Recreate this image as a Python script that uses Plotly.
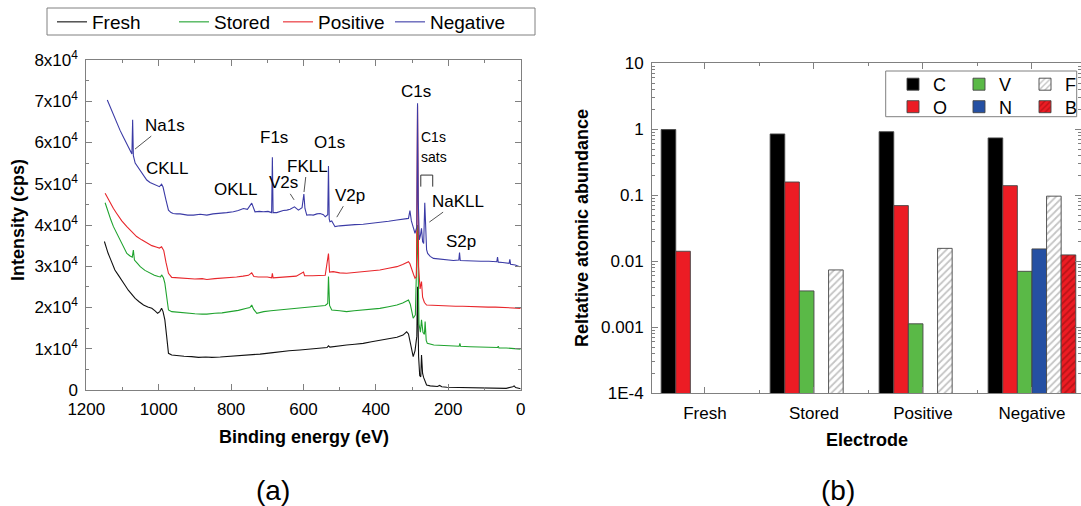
import plotly.graph_objects as go

W, H = 1081, 506
FONT = "Liberation Sans, Arial, sans-serif"
GRID = "#808080"

# ---------------- Panel (a): XPS survey spectra (intensity in 10^4 cps) -------------
fresh_E = [1150,1145,1140,1134,1128,1121,1112,1102,1093,1084,1075,1065,1054,1042,1030,1019,1010,1003,997,992,
           988,983,978,973,964,950,930,909,890,870,853,830,810,798,770,743,720,690,665,640,
           610,573,550,535,531,527,500,481,458,435,412,389,365,342,325,315,310,306,301,297,
           292,287,285,282,279,276,274,271,268,264,260,250,240,230,224,218,204,180,150,120,
           90,60,40,22,18,14,5,0]
fresh_I = [3.60,3.45,3.32,3.19,3.05,2.91,2.79,2.67,2.54,2.42,2.32,2.22,2.14,2.06,2.01,1.98,1.92,1.86,1.90,1.98,
           1.90,1.70,1.30,0.89,0.85,0.83,0.82,0.81,0.79,0.80,0.79,0.80,0.81,0.82,0.83,0.85,0.87,0.90,0.93,0.95,
           0.97,0.99,1.02,1.03,1.07,1.04,1.06,1.09,1.11,1.13,1.17,1.21,1.24,1.28,1.33,1.41,1.36,1.20,0.95,0.81,
           0.95,1.30,2.50,0.80,0.35,0.32,0.85,0.40,0.30,0.20,0.12,0.10,0.09,0.085,0.11,0.08,0.065,0.06,0.055,0.05,
           0.045,0.04,0.04,0.08,0.10,0.06,0.04,0.03]

stored_E = [1148,1143,1139,1132,1125,1116,1107,1098,1088,1079,1073,1070,1067,1060,1051,1038,1024,1012,1001,995,
            992,987,983,978,973,964,945,922,900,880,867,845,825,803,780,757,748,743,738,729,
            710,690,665,640,620,600,573,550,540,533,531,528,522,500,481,460,435,412,389,365,
            342,326,310,305,297,291,285,281,277,274,270,266,264,261,258,240,220,204,180,170,
            168,166,140,110,80,64,62,60,40,20,0]
stored_I = [4.54,4.40,4.28,4.12,3.96,3.80,3.64,3.48,3.31,3.25,3.22,3.39,3.15,3.08,2.99,2.90,2.83,2.78,2.75,2.74,
            2.79,2.72,2.59,2.25,1.94,1.90,1.88,1.86,1.85,1.84,1.84,1.86,1.87,1.90,1.93,1.98,2.00,2.06,1.96,1.86,
            1.90,1.92,1.94,1.96,1.98,2.00,2.02,2.03,2.05,2.10,2.75,2.05,1.94,1.92,1.90,1.92,1.94,1.96,1.98,2.02,
            2.06,2.11,2.18,2.08,1.74,1.82,4.00,1.60,1.40,1.70,1.40,1.35,1.66,1.20,1.13,1.09,1.08,1.07,1.06,1.06,
            1.13,1.06,1.05,1.04,1.03,1.03,1.06,1.02,1.02,1.01,0.99]

positive_E = [1148,1141,1134,1125,1116,1102,1088,1075,1061,1047,1033,1019,1005,998,992,986,980,973,964,950,
              922,900,880,867,845,825,803,785,767,752,743,737,725,700,688,686,684,660,640,620,
              600,597,575,555,540,531,528,518,500,481,460,435,412,389,365,342,326,310,306,301,
              296,292,288,285,282,278,274,271,266,260,240,220,204,180,160,140,112,90,70,50,
              30,15,0]
positive_I = [4.77,4.65,4.53,4.40,4.28,4.10,3.96,3.84,3.72,3.64,3.56,3.50,3.46,3.44,3.47,3.38,3.10,2.83,2.73,2.72,
              2.71,2.69,2.70,2.68,2.70,2.71,2.73,2.74,2.76,2.78,2.84,2.75,2.74,2.74,2.72,2.83,2.72,2.74,2.76,2.76,
              2.86,2.77,2.77,2.78,2.78,3.31,2.86,2.87,2.84,2.83,2.85,2.86,2.88,2.91,2.95,2.99,3.04,3.11,3.06,2.91,
              2.80,2.71,2.75,6.90,3.00,2.45,2.63,2.25,2.12,2.06,2.05,2.05,2.04,2.03,2.03,2.02,2.02,2.01,2.01,2.00,
              2.00,1.99,1.98]

negative_E = [1142,1136,1130,1123,1116,1107,1098,1089,1079,1074,1072,1070,1065,1056,1047,1040,1033,1024,1015,1006,
              998,992,988,980,973,966,960,950,941,920,904,885,867,850,831,812,794,780,766,755,
              743,738,734,722,711,698,688,686,684,674,665,656,646,637,625,620,614,604,599,596,
              591,582,573,563,554,545,540,533,531,529,527,522,513,500,481,458,435,412,389,365,
              342,326,310,306,302,297,292,287,285,283,280,277,274,271,268,265,263,260,257,250,
              241,222,204,186,171,169,167,150,131,110,88,66,64,62,50,32,30,28,15,3]
negative_I = [7.03,6.90,6.79,6.62,6.46,6.30,6.14,5.98,5.82,5.72,6.55,5.68,5.50,5.38,5.25,5.16,5.09,5.03,4.99,4.95,
              4.93,4.99,4.92,4.61,4.36,4.30,4.28,4.27,4.27,4.24,4.24,4.26,4.24,4.27,4.28,4.30,4.32,4.35,4.40,4.38,
              4.53,4.40,4.32,4.33,4.32,4.33,4.30,5.64,4.30,4.30,4.33,4.35,4.36,4.38,4.44,4.40,4.36,4.42,4.75,4.40,
              4.24,4.25,4.24,4.27,4.28,4.25,4.20,4.25,5.43,4.15,4.08,4.10,3.96,3.98,4.00,4.01,4.02,4.04,4.06,4.09,
              4.12,4.14,4.16,4.35,4.10,3.95,3.80,3.95,6.95,4.60,3.64,3.75,3.92,3.60,3.55,4.54,3.90,3.40,3.31,3.24,
              3.19,3.17,3.15,3.14,3.15,3.33,3.14,3.13,3.13,3.12,3.12,3.11,3.22,3.10,3.09,3.07,3.17,3.05,3.03,2.99]

spectra = [
    ("Fresh", fresh_E, fresh_I, "#111111", 77),
    ("Stored", stored_E, stored_I, "#1FA32E", 59),
    ("Positive", positive_E, positive_I, "#E8262B", 67),
    ("Negative", negative_E, negative_I, "#3B3BA6", 88),
]

y_tick_vals = [0, 1, 2, 3, 4, 5, 6, 7, 8]
y_tick_text = ["0"] + [f"{v}x10<sup>4</sup>" for v in y_tick_vals[1:]]
x_tick_vals = [1200, 1000, 800, 600, 400, 200, 0]

# ---------------- Panel (b): relative atomic abundance -------------
categories = ["Fresh", "Stored", "Positive", "Negative"]
abund_C = [0.99, 0.85, 0.92, 0.74]
abund_O = [0.0142, 0.159, 0.0698, 0.140]
abund_V = [None, 0.00356, 0.00113, 0.00705]
abund_N = [None, None, None, 0.0154]
abund_F = [None, 0.0074, 0.0157, 0.097]
abund_B = [None, None, None, 0.0125]
log_tick_vals = [1e-4, 1e-3, 1e-2, 1e-1, 1, 10]
log_tick_text = ["1E-4", "0.001", "0.01", "0.1", "1", "10"]

fig = go.Figure()

for name, E, I, col, lw in spectra:
    fig.add_trace(go.Scatter(x=E, y=I, mode="lines", name=name,
                             line=dict(color=col, width=1.1), legendwidth=lw,
                             xaxis="x", yaxis="y", legend="legend"))

xpos = list(range(len(categories)))
bar_specs = [
    ("C", abund_C, dict(color="#000000"), "legend2"),
    ("O", abund_O, dict(color="#EC1C24"), "legend3"),
    ("V", abund_V, dict(color="#5AB947"), "legend2"),
    ("N", abund_N, dict(color="#2550A3"), "legend3"),
    ("F", abund_F, dict(color="#FFFFFF", pattern=dict(shape="/", fgcolor="#8a8a8a", bgcolor="#FFFFFF",
                                                      size=5, solidity=0.35)), "legend2"),
    ("B", abund_B, dict(color="#EC1C24", pattern=dict(shape="/", fgcolor="#8B0A0A", bgcolor="#EC1C24",
                                                      size=5, solidity=0.35)), "legend3"),
]
for name, vals, mk, lg in bar_specs:
    mk = dict(mk)
    mk["line"] = dict(color="rgba(70,70,70,0.9)", width=1)
    fig.add_trace(go.Bar(x=xpos, y=vals, name=name, marker=mk,
                         xaxis="x2", yaxis="y2", legend=lg))

def px_x(p):
    return p / W

def px_y(p):
    return 1 - p / H

axis_common = dict(showline=True, linecolor=GRID, linewidth=1, mirror="ticks",
                   ticks="inside", ticklen=6, tickcolor=GRID, showgrid=False, zeroline=False,
                   tickfont=dict(family=FONT, size=17, color="#000"), automargin=False)

fig.update_layout(
    width=W, height=H,
    margin=dict(l=0, r=0, t=0, b=0, autoexpand=False),
    paper_bgcolor="white", plot_bgcolor="white",
    font=dict(family=FONT, color="#000"),
    barmode="group", bargap=0.196, bargroupgap=0,
    xaxis=dict(domain=[px_x(86.3), px_x(520.7)], range=[1200, 0], anchor="y",
               tickvals=x_tick_vals, ticklabelstandoff=4,
               minor=dict(ticks="inside", ticklen=3, dtick=100, tickcolor=GRID),
               **axis_common),
    yaxis=dict(domain=[px_y(390), px_y(60)], range=[0, 8], anchor="x",
               tickvals=y_tick_vals, ticktext=y_tick_text, ticklabelstandoff=4,
               minor=dict(ticks="inside", ticklen=3, dtick=0.5, tickcolor=GRID),
               **axis_common),
    xaxis2=dict(domain=[px_x(652), 1.0], range=[-0.486, 3.45], anchor="y2",
                tickvals=xpos, ticktext=categories, ticklabelstandoff=4,
                minor=dict(ticks="inside", ticklen=3, dtick=0.5, tick0=0.5, tickcolor=GRID),
                **axis_common),
    yaxis2=dict(domain=[px_y(393.3), px_y(63.3)], type="log", range=[-4, 1], anchor="x2",
                tickvals=log_tick_vals, ticktext=log_tick_text, ticklabelstandoff=4,
                minor=dict(ticks="inside", ticklen=3, tickcolor=GRID,
                           tickvals=[m * 10 ** d for d in range(-4, 1) for m in range(2, 10)]),
                **axis_common),
    legend=dict(orientation="h", x=px_x(52), y=px_y(3), xanchor="left", yanchor="top",
                borderwidth=0, bgcolor="rgba(0,0,0,0)",
                font=dict(family=FONT, size=19)),
    legend2=dict(orientation="h", x=px_x(893), y=px_y(66), xanchor="left", yanchor="top",
                 entrywidth=21, entrywidthmode="pixels", bgcolor="rgba(0,0,0,0)",
                 font=dict(family=FONT, size=18), tracegroupgap=0),
    legend3=dict(orientation="h", x=px_x(893), y=px_y(88.5), xanchor="left", yanchor="top",
                 entrywidth=21, entrywidthmode="pixels", bgcolor="rgba(0,0,0,0)",
                 font=dict(family=FONT, size=18), tracegroupgap=0),
)

# legend frames
fig.add_shape(type="rect", xref="paper", yref="paper",
              x0=px_x(47), x1=px_x(535), y0=px_y(35), y1=px_y(8),
              line=dict(color=GRID, width=1), fillcolor="rgba(0,0,0,0)", layer="below")
fig.add_shape(type="rect", xref="paper", yref="paper",
              x0=px_x(885.7), x1=px_x(1076.7), y0=px_y(116.7), y1=px_y(71),
              line=dict(color=GRID, width=1), fillcolor="rgba(0,0,0,0)", layer="below")

# C1s satellite bracket
fig.add_shape(type="path", xref="x", yref="y",
              path="M 276,4.93 L 276,5.21 L 243,5.21 L 243,4.93",
              line=dict(color="#333", width=1))

ann = []
def label(text, x, y, size=17, **kw):
    d = dict(text=text, x=x, y=y, xref="x", yref="y", showarrow=False,
             font=dict(family=FONT, size=size, color="#000"))
    d.update(kw)
    ann.append(d)

def leader(text, x, y, ax, ay, size=17):
    ann.append(dict(text=text, x=x, y=y, xref="x", yref="y", showarrow=True,
                    arrowhead=0, arrowwidth=1, arrowcolor="#555", ax=ax, ay=ay, standoff=0,
                    font=dict(family=FONT, size=size, color="#000")))

leader("Na1s", 1065.5, 5.84, 30, -24)
label("CKLL", 977, 5.38)
label("OKLL", 786.5, 4.85)
label("F1s", 681.5, 6.13)
leader("V2s", 626, 4.61, -11, -17)
leader("FKLL", 598.6, 4.80, 3, -26)
label("O1s", 528.7, 6.0)
leader("V2p", 508, 4.19, 13, -22)
label("C1s", 289, 7.23)
label("C1s", 241, 6.14, size=14)
label("sats", 239.5, 5.64, size=14)
leader("NaKLL", 252.5, 4.07, 29, -21)
label("S2p", 165, 3.6)

def paper_text(text, x, y, size, bold=False, angle=0):
    ann.append(dict(text=f"<b>{text}</b>" if bold else text, x=px_x(x), y=px_y(y),
                    xref="paper", yref="paper", showarrow=False, textangle=angle,
                    xanchor="center", yanchor="middle",
                    font=dict(family=FONT, size=size, color="#000")))

paper_text("Binding energy (eV)", 304, 437, 18, bold=True)
paper_text("Intensity (cps)", 18, 220, 18, bold=True, angle=-90)
paper_text("Electrode", 867, 440, 18, bold=True)
paper_text("Reltative atomic abundance", 582, 228, 18, bold=True, angle=-90)
paper_text("(a)", 273, 490, 28)
paper_text("(b)", 838, 490, 28)

fig.update_layout(annotations=ann)

fig.write_html("out.html", config={"displayModeBar": False},
               post_script="document.body.style.margin='0px';document.body.style.overflow='hidden';")
